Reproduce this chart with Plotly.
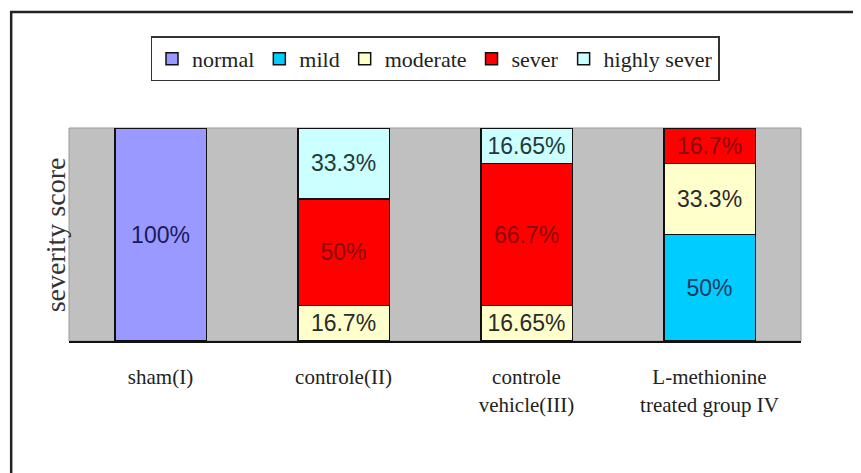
import plotly.graph_objects as go

categories = ["sham(I)", "controle(II)", "controle<br>vehicle(III)", "L-methionine<br>treated group IV"]
series_names = ["normal", "mild", "moderate", "sever", "highly sever"]
normal = [100, None, None, None]
mild = [None, None, None, 50]
moderate = [None, 16.7, 16.65, 33.3]
sever = [None, 50, 66.7, 16.7]
highly_sever = [None, 33.3, 16.65, None]
y_title = "severity score"

values = [normal, mild, moderate, sever, highly_sever]
fills = ["#9999FF", "#00CCFF", "#FFFFCC", "#FF0000", "#CCFFFF"]
text_colors = ["#1a1a5e", "#173a5e", "#2a2a2a", "#8a0a0a", "#1f3a3a"]

fig = go.Figure()
for name, vals, fc, tc in zip(series_names, values, fills, text_colors):
    fig.add_trace(go.Bar(
        name=name, x=categories, y=vals,
        marker=dict(color=fc, line=dict(color="#111111", width=1.5)),
        texttemplate="%{y}%", textposition="inside", insidetextanchor="middle",
        textfont=dict(family="Liberation Sans, Arial", size=23, color=tc),
        constraintext="none", hoverinfo="skip",
    ))

# page has an 8px body margin; figure is sized to fit the 861x473 window
fig.update_layout(
    width=853, height=465,
    margin=dict(l=61, r=60, t=120, b=132, autoexpand=False),
    barmode="stack", bargap=0.5,
    paper_bgcolor="white", plot_bgcolor="#C0C0C0",
    showlegend=True,
    legend=dict(
        orientation="h", x=0.5, xanchor="center", y=1.43, yanchor="top",
        font=dict(family="Liberation Serif, Times New Roman", size=22, color="#222"),
        bordercolor="#333", borderwidth=1.5, bgcolor="white",
        itemwidth=30, traceorder="normal", itemclick=False,
    ),
    xaxis=dict(
        showline=True, linecolor="#111", linewidth=2, ticks="", showgrid=False,
        automargin=False,
        tickfont=dict(family="Liberation Serif, Times New Roman", size=21, color="#222"),
        ticklabelstandoff=16,
    ),
    yaxis=dict(
        range=[0, 100], showticklabels=False, ticks="", showgrid=False, zeroline=False,
        automargin=False,
    ),
    annotations=[
        dict(text=y_title, xref="paper", yref="paper", x=-0.018, y=0.5,
             xanchor="center", yanchor="middle", textangle=-90, showarrow=False,
             font=dict(family="Liberation Serif, Times New Roman", size=28, color="#333")),
    ],
    shapes=[
        dict(type="rect", xref="paper", yref="paper", x0=0, x1=1, y0=0, y1=1,
             line=dict(color="#999", width=1), layer="below"),
        dict(type="rect", xref="paper", yref="paper", x0=-0.079, x1=1.3, y0=-1.0, y1=1.545,
             line=dict(color="#222", width=2.5), layer="below"),
    ],
)

fig.write_html("out.html")
